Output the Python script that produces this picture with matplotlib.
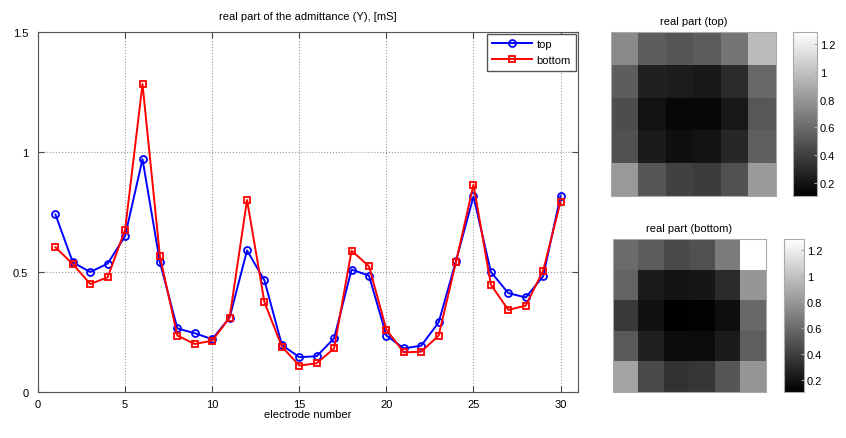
import numpy as np
import matplotlib
matplotlib.use('Agg')
import matplotlib.pyplot as plt

plt.rcParams['font.family'] = ['Liberation Sans', 'DejaVu Sans']
plt.rcParams['font.size'] = 8

# electrode values, real part of admittance [mS]
electrodes = list(range(1, 31))
top = [0.74, 0.54, 0.50, 0.535, 0.65, 0.97, 0.54, 0.265, 0.245, 0.22,
       0.31, 0.59, 0.465, 0.196, 0.145, 0.149, 0.224, 0.51, 0.485, 0.235,
       0.182, 0.193, 0.29, 0.547, 0.815, 0.50, 0.412, 0.394, 0.482, 0.818]
bottom = [0.603, 0.533, 0.45, 0.478, 0.676, 1.283, 0.565, 0.235, 0.20, 0.214,
          0.31, 0.80, 0.374, 0.189, 0.11, 0.12, 0.182, 0.589, 0.524, 0.26,
          0.165, 0.168, 0.235, 0.543, 0.864, 0.447, 0.342, 0.36, 0.506, 0.793]
cbar_ticks = [0.2, 0.4, 0.6, 0.8, 1.0, 1.2]

W, H = 846, 439
fig = plt.figure(figsize=(W / 100, H / 100), dpi=100)

def box(x0, y0, x1, y1):
    # pixel box -> figure fraction
    return [x0 / W, 1 - y1 / H, (x1 - x0) / W, (y1 - y0) / H]

ax = fig.add_axes(box(38, 33, 578, 393))
ax.plot(electrodes, top, '-o', color='#0000ff', lw=1.4, ms=5, mfc='none', mew=1.3, label='top')
ax.plot(electrodes, bottom, '-s', color='#ff0000', lw=1.4, ms=4.5, mfc='none', mew=1.3, label='bottom')
ax.set_xlim(0, 31)
ax.set_ylim(0, 1.5)
ax.set_xticks([0, 5, 10, 15, 20, 25, 30])
ax.set_yticks([0, 0.5, 1, 1.5])
ax.set_yticklabels(['0', '0.5', '1', '1.5'])
ax.grid(True, linestyle=':', color='#999999', lw=0.8)
ax.tick_params(direction='in', top=True, right=True, length=4, color='#444444')
ax.tick_params(axis='y', pad=7)
ax.tick_params(axis='x', pad=5)
for s in ax.spines.values():
    s.set_color('#555555')
ax.set_title('real part of the admittance (Y), [mS]', fontsize=8, pad=9)
ax.set_xlabel('electrode number', labelpad=0)
leg = ax.legend(loc='upper right', fancybox=False, framealpha=1, edgecolor='#555555',
                handlelength=3.6, borderpad=0.5, labelspacing=0.55, borderaxespad=0.15,
                handletextpad=0.4)

vmin = min(min(top), min(bottom))
vmax = max(max(top), max(bottom))

def heat(vals, hbox, cbox, title):
    hax = fig.add_axes(box(*hbox))
    img = hax.imshow(np.array(vals).reshape(5, 6), cmap='gray', vmin=vmin, vmax=vmax,
                     aspect='auto', interpolation='nearest')
    hax.set_xticks([])
    hax.set_yticks([])
    for s in hax.spines.values():
        s.set_color('#aaaaaa')
    hax.set_title(title, fontsize=8, pad=6)
    cax = fig.add_axes(box(*cbox))
    cb = fig.colorbar(img, cax=cax, ticks=cbar_ticks)
    cb.ax.set_yticklabels(['0.2', '0.4', '0.6', '0.8', '1', '1.2'])
    cb.ax.tick_params(direction='in', length=2, color='#aaaaaa', pad=2)
    cb.outline.set_edgecolor('#aaaaaa')

heat(top, (611, 33, 776, 197), (793, 33, 817, 197), 'real part (top)')
heat(bottom, (613, 240, 766, 393), (784, 240, 804, 393), 'real part (bottom)')

fig.savefig('out.png', dpi=100)
